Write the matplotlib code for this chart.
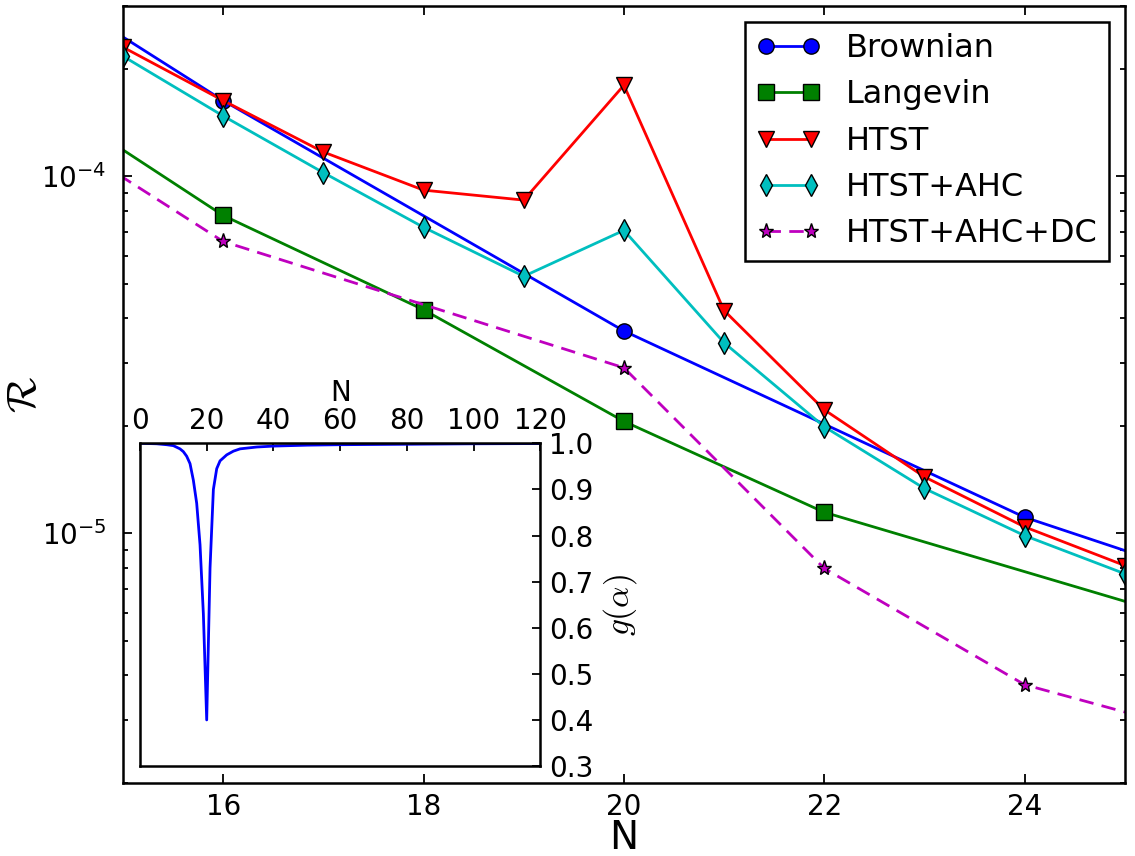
import matplotlib
matplotlib.use('Agg')
import matplotlib.pyplot as plt
from matplotlib.ticker import NullFormatter, MultipleLocator, FixedLocator

# rate vs. N
n_brown = [12, 16, 20, 24, 28]
brownian = [8.4e-4, 1.63e-4, 3.69e-5, 1.11e-5, 4.7e-6]

n_lang = [14, 16, 18, 20, 22, 26]
langevin = [1.81e-4, 7.77e-5, 4.23e-5, 2.06e-5, 1.146e-5, 5.33e-6]

n_htst = [15, 16, 17, 18, 19, 20, 21, 22, 23, 24, 25]
htst = [2.30e-4, 1.63e-4, 1.17e-4, 9.15e-5, 8.58e-5, 1.80e-4,
        4.21e-5, 2.22e-5, 1.44e-5, 1.043e-5, 8.13e-6]
htst_ahc = [2.17e-4, 1.476e-4, 1.024e-4, 7.2e-5, 5.25e-5, 7.06e-5,
            3.42e-5, 1.99e-5, 1.336e-5, 9.86e-6, 7.71e-6]

n_dc = [14, 16, 20, 22, 24, 26]
htst_ahc_dc = [1.5e-4, 6.57e-5, 2.91e-5, 7.98e-6, 3.77e-6, 2.65e-6]

# inset: g(alpha) vs N
n_inset = [0, 5, 8, 10, 12, 13, 14, 15, 16, 17, 18, 19, 20, 21, 22, 23,
           24, 26, 28, 30, 35, 40, 50, 60, 80, 100, 120]
g_alpha = [1.0, 0.999, 0.997, 0.995, 0.988, 0.982, 0.972, 0.956, 0.92,
           0.87, 0.78, 0.63, 0.40, 0.73, 0.90, 0.945, 0.962, 0.975, 0.983,
           0.988, 0.992, 0.994, 0.996, 0.997, 0.998, 0.999, 0.9995]

plt.rcParams['font.family'] = ['DejaVu Sans']
plt.rcParams['mathtext.fontset'] = 'dejavusans'
for a in ('xtick', 'ytick'):
    plt.rcParams[a + '.direction'] = 'in'
    plt.rcParams[a + '.major.width'] = 1.3
    plt.rcParams[a + '.minor.width'] = 1.3
    plt.rcParams[a + '.major.size'] = 6.5
    plt.rcParams[a + '.minor.size'] = 3.5
plt.rcParams['axes.linewidth'] = 1.8

fig = plt.figure(figsize=(11.35, 8.56), dpi=100)
ax = fig.add_axes([0.1084, 0.0853, 0.8826, 0.9077])

lw = 2.0
ms = 11
style = dict(lw=lw, ms=ms, mec='k', mew=1.0)
ax.plot(n_brown, brownian, 'b-o', label='Brownian', **style)
ax.plot(n_lang, langevin, 'g-s', label='Langevin', **style)
ax.plot(n_htst, htst, 'r-v', label='HTST', **style)
ax.plot(n_htst, htst_ahc, 'c-d', label='HTST+AHC', **style)
ax.plot(n_dc, htst_ahc_dc, 'm--*', label='HTST+AHC+DC', dashes=(5.2, 3.0), **style)

ax.set_yscale('log')
ax.set_xlim(15, 25)
ax.set_ylim(2e-6, 3e-4)
ax.xaxis.set_major_locator(FixedLocator([16, 18, 20, 22, 24]))
ax.yaxis.set_minor_formatter(NullFormatter())
ax.tick_params(which='both', top=True, right=True)
ax.tick_params(axis='x', labelsize=20, pad=7)
ax.tick_params(axis='y', labelsize=20, pad=12)
ax.set_xlabel('N', fontsize=28)
ax.xaxis.set_label_coords(0.5, -0.046)
ax.set_ylabel(r'$\mathcal{R}$', fontsize=30, math_fontfamily='cm')
ax.yaxis.set_label_coords(-0.078, 0.5)

leg = ax.legend(loc='upper right', fontsize=23, numpoints=2, fancybox=False,
                framealpha=1, edgecolor='k', labelspacing=0.48,
                handlelength=2.0, handletextpad=0.8, borderpad=0.35,
                borderaxespad=0.5)
leg.get_frame().set_linewidth(1.8)

# inset
axin = fig.add_axes([0.1233, 0.1051, 0.3529, 0.377])
axin.plot(n_inset, g_alpha, 'b-', lw=lw)
axin.set_xlim(0, 120)
axin.set_ylim(0.3, 1.0)
axin.xaxis.set_major_locator(MultipleLocator(20))
axin.yaxis.set_major_locator(MultipleLocator(0.1))
axin.xaxis.tick_top()
axin.yaxis.tick_right()
axin.xaxis.set_label_position('top')
axin.yaxis.set_label_position('right')
axin.tick_params(axis='x', labelsize=20, pad=6, length=6)
axin.tick_params(axis='y', labelsize=20, pad=6, length=6)
axin.set_xlabel('N', fontsize=20, labelpad=4)
axin.set_ylabel(r'$g(\alpha)$', fontsize=24, math_fontfamily='cm', labelpad=6)

fig.savefig('out.png', dpi=100)
